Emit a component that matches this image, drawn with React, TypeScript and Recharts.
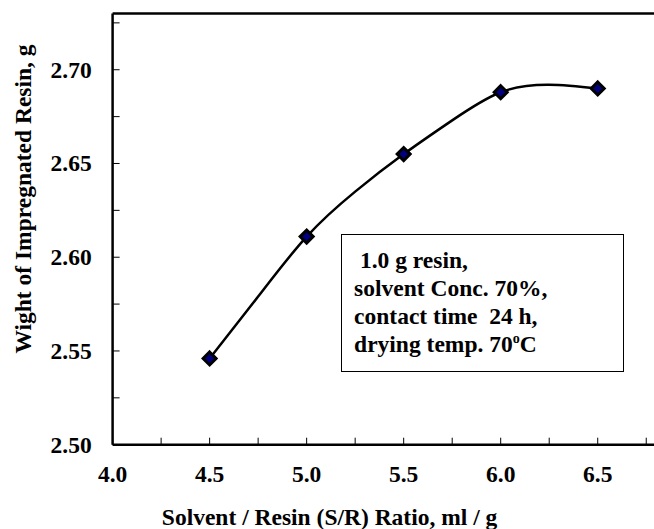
import React from 'react';
import { LineChart, Line, XAxis, YAxis, ReferenceLine } from 'recharts';

// S/R ratio (ml/g) vs weight of impregnated resin (g): measured points
const ratios = [4.5, 5.0, 5.5, 6.0, 6.5];
const weights = [2.546, 2.611, 2.655, 2.688, 2.69];

// trend curve
const trendRatios = [4.5, 4.75, 5.0, 5.25, 5.5, 5.75, 6.0, 6.25, 6.5];
const trendWeights = [2.546, 2.579, 2.611, 2.635, 2.655, 2.673, 2.688, 2.692, 2.69];

const xTicks = [4.0, 4.25, 4.5, 4.75, 5.0, 5.25, 5.5, 5.75, 6.0, 6.25, 6.5, 6.75];
const xLabelled = [4.0, 4.5, 5.0, 5.5, 6.0, 6.5];
const yTicks = [2.5, 2.525, 2.55, 2.575, 2.6, 2.625, 2.65, 2.675, 2.7, 2.725];
const yLabelled = [2.5, 2.55, 2.6, 2.65, 2.7];

const xDomain = [4.0, 6.79];
const yDomain = [2.5, 2.73];

const xTitle = 'Solvent / Resin (S/R) Ratio, ml / g';
const yTitle = 'Wight of Impregnated Resin, g';
const noteLines = [' 1.0 g resin,', 'solvent Conc. 70%,', 'contact time  24 h,'];

const FONT = '"Liberation Serif", "Times New Roman", serif';
const FS = 23.5;

const points = ratios.map((r, i) => ({ r, w: weights[i] }));
const trend = trendRatios.map((r, i) => ({ r, w: trendWeights[i] }));

const isIn = (list: number[], v: number) => list.some(t => Math.abs(t - v) < 1e-6);

const XTick = (props: any) => {
  const { x, y, payload } = props;
  if (!isIn(xLabelled, payload.value)) return <g />;
  return (
    <text x={x} y={y + 44.3} textAnchor="middle" fontFamily={FONT} fontWeight="bold" fontSize={FS} fill="#000">
      {payload.value.toFixed(1)}
    </text>
  );
};

const YTick = (props: any) => {
  const { x, y, payload } = props;
  if (!isIn(yLabelled, payload.value)) return <g />;
  return (
    <text x={x - 27.9} y={y + 7.9} textAnchor="end" fontFamily={FONT} fontWeight="bold" fontSize={FS} fill="#000">
      {payload.value.toFixed(2)}
    </text>
  );
};

const Diamond = (props: any) => {
  const { cx, cy } = props;
  if (cx == null || cy == null) return <g />;
  const s = 6.5;
  return (
    <polygon
      points={`${cx},${cy - s} ${cx + s},${cy} ${cx},${cy + s} ${cx - s},${cy}`}
      fill="#000080"
      stroke="#000"
      strokeWidth={3}
      strokeLinejoin="miter"
    />
  );
};

const textStyle: React.CSSProperties = {
  fontFamily: FONT,
  fontWeight: 'bold',
  fontSize: FS,
  color: '#000',
  whiteSpace: 'pre',
};

export default function App() {
  return (
    <div style={{ position: 'relative', width: 654, height: 529, background: '#fff', overflow: 'hidden' }}>
      <style>{'body{margin:0;overflow:hidden;background:#fff}'}</style>
      <LineChart width={654} height={529} margin={{ top: 13.5, right: 0, bottom: 44.3, left: 0 }}>
        <XAxis
          dataKey="r"
          type="number"
          domain={xDomain}
          ticks={xTicks}
          allowDataOverflow
          height={40}
          tickSize={-7}
          tickMargin={0}
          axisLine={{ stroke: '#000', strokeWidth: 2.5 }}
          tickLine={{ stroke: '#000', strokeWidth: 1 }}
          tick={<XTick />}
          interval={0}
        />
        <YAxis
          type="number"
          domain={yDomain}
          ticks={yTicks}
          allowDataOverflow
          width={112.6}
          tickSize={-7}
          tickMargin={0}
          axisLine={{ stroke: '#000', strokeWidth: 2.5 }}
          tickLine={{ stroke: '#000', strokeWidth: 1 }}
          tick={<YTick />}
          interval={0}
        />
        <ReferenceLine y={yDomain[1]} stroke="#000" strokeWidth={2.5} ifOverflow="visible" />
        <Line
          data={trend}
          dataKey="w"
          type="natural"
          stroke="#000"
          strokeWidth={2.5}
          dot={false}
          activeDot={false}
          isAnimationActive={false}
        />
        <Line
          data={points}
          dataKey="w"
          stroke="none"
          dot={<Diamond />}
          activeDot={false}
          isAnimationActive={false}
        />
      </LineChart>

      <div
        style={{
          ...textStyle,
          position: 'absolute',
          left: 329.6,
          top: 506.5,
          lineHeight: '20px',
          transform: 'translateX(-50%)',
        }}
      >
        {xTitle}
      </div>
      <div
        style={{
          ...textStyle,
          position: 'absolute',
          left: 22.6,
          top: 199,
          lineHeight: '20px',
          transform: 'translate(-50%, -50%) rotate(-90deg)',
        }}
      >
        {yTitle}
      </div>

      <div
        style={{
          ...textStyle,
          position: 'absolute',
          left: 341,
          top: 233.5,
          width: 282.7,
          height: 138,
          boxSizing: 'border-box',
          border: '1.5px solid #000',
          background: '#fff',
          padding: '11.1px 0 0 12.1px',
          lineHeight: '28px',
        }}
      >
        {noteLines.map(l => (
          <div key={l}>{l}</div>
        ))}
        <div>
          drying temp. 70<sup style={{ fontSize: '0.6em', lineHeight: 0 }}>o</sup>C
        </div>
      </div>
    </div>
  );
}
